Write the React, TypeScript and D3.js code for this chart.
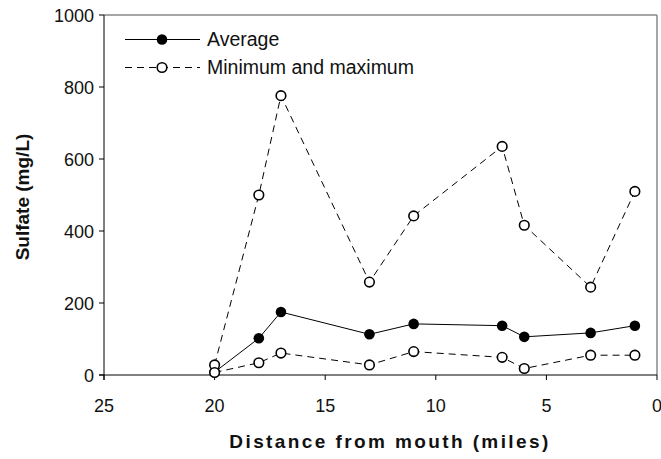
import React from "react";
import * as d3 from "d3";

// Sampling stations, miles upstream from the mouth
const distance = [20, 18, 17, 13, 11, 7, 6, 3, 1];
// Sulfate concentrations (mg/L)
const average = [8, 102, 175, 113, 142, 137, 106, 117, 137];
const minimum = [7, 34, 61, 28, 65, 49, 18, 55, 55];
const maximum = [28, 500, 776, 258, 442, 635, 416, 244, 510];

const xTicks = [25, 20, 15, 10, 5, 0];
const yTicks = [0, 200, 400, 600, 800, 1000];

const W = 661;
const H = 459;
const left = 104;
const right = 657;
const top = 15;
const bottom = 375;
const FONT = "Liberation Sans, Arial, sans-serif";

export default function App() {
  const x = d3.scaleLinear().domain([25, 0]).range([left, right]);
  const y = d3.scaleLinear().domain([0, 1000]).range([bottom, top]);

  const line = d3
    .line<[number, number]>()
    .x((d) => x(d[0]))
    .y((d) => y(d[1]));

  const pts = (vals: number[]) => distance.map((d, i) => [d, vals[i]] as [number, number]);
  const dash = "7,5";

  return (
    <svg
      width={W}
      height={H}
      style={{ position: "absolute", left: 0, top: 0, background: "#fff" }}
      fontFamily={FONT}
    >
      {/* frame */}
      <line x1={left} x2={right} y1={top} y2={top} stroke="#888" strokeWidth={1.5} />
      <line x1={right} x2={right} y1={top} y2={bottom} stroke="#888" strokeWidth={1.5} />
      <line x1={left} x2={left} y1={top} y2={bottom + 5} stroke="#000" strokeWidth={1} />
      <line x1={left - 5} x2={right} y1={bottom} y2={bottom} stroke="#000" strokeWidth={1} />

      {/* y axis */}
      {yTicks.map((t) => (
        <g key={"y" + t}>
          <line x1={left - 5} x2={left} y1={y(t)} y2={y(t)} stroke="#000" />
          <text x={left - 10} y={y(t) + 6.5} fontSize={18} textAnchor="end" fill="#111">
            {t}
          </text>
        </g>
      ))}

      {/* x axis */}
      {xTicks.map((t) => (
        <g key={"x" + t}>
          <line x1={x(t)} x2={x(t)} y1={bottom} y2={bottom + 5} stroke="#000" />
          <text x={x(t)} y={bottom + 37} fontSize={18} textAnchor="middle" fill="#111">
            {t}
          </text>
        </g>
      ))}

      {/* axis titles */}
      <text
        x={390}
        y={448}
        fontSize={19}
        fontWeight="bold"
        textAnchor="middle"
        letterSpacing={2.4}
        fill="#111"
      >
        Distance from mouth (miles)
      </text>
      <text
        transform={`translate(29,${(top + bottom) / 2 + 2}) rotate(-90)`}
        fontSize={19}
        fontWeight="bold"
        textAnchor="middle"
        fill="#111"
      >
        Sulfate (mg/L)
      </text>

      {/* series lines */}
      <path d={line(pts(maximum)) || ""} fill="none" stroke="#000" strokeWidth={1} strokeDasharray={dash} />
      <path d={line(pts(minimum)) || ""} fill="none" stroke="#000" strokeWidth={1} strokeDasharray={dash} />
      <path d={line(pts(average)) || ""} fill="none" stroke="#000" strokeWidth={1} />

      {/* markers */}
      {distance.map((d, i) => (
        <circle key={"a" + i} cx={x(d)} cy={y(average[i])} r={5.3} fill="#000" />
      ))}
      {distance.map((d, i) => (
        <circle key={"mx" + i} cx={x(d)} cy={y(maximum[i])} r={4.8} fill="#fff" stroke="#000" strokeWidth={1.6} />
      ))}
      {distance.map((d, i) => (
        <circle key={"mn" + i} cx={x(d)} cy={y(minimum[i])} r={4.8} fill="#fff" stroke="#000" strokeWidth={1.6} />
      ))}

      {/* legend */}
      <g>
        <line x1={125} x2={200} y1={39.5} y2={39.5} stroke="#000" strokeWidth={1} />
        <circle cx={162} cy={39.5} r={5.3} fill="#000" />
        <text x={207} y={46} fontSize={19.5} fill="#111">
          Average
        </text>
        <line x1={125} x2={200} y1={67.5} y2={67.5} stroke="#000" strokeWidth={1} strokeDasharray={dash} />
        <circle cx={162} cy={67.5} r={4.8} fill="#fff" stroke="#000" strokeWidth={1.6} />
        <text x={207} y={74} fontSize={19.5} fill="#111">
          Minimum and maximum
        </text>
      </g>
    </svg>
  );
}
